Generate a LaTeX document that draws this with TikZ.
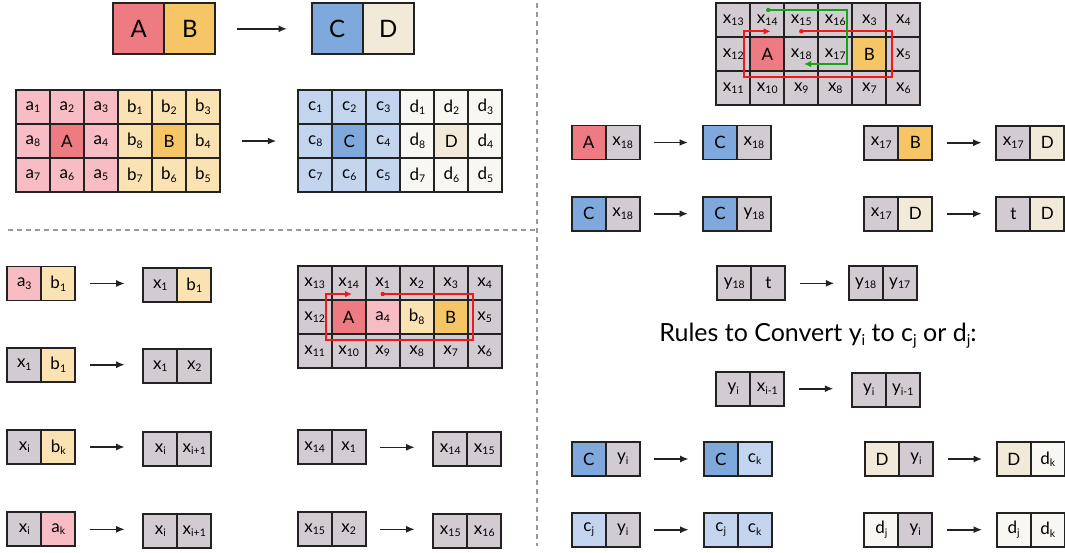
\documentclass[tikz,border=0pt]{standalone}
\usepackage{fontspec}
\setmainfont{Lato}
\usetikzlibrary{arrows.meta}
\definecolor{cA}{HTML}{EE7A82}
\definecolor{cB}{HTML}{F6C566}
\definecolor{cC}{HTML}{7FA8DC}
\definecolor{cD}{HTML}{F1EAD8}
\definecolor{la}{HTML}{F7BCC4}
\definecolor{lb}{HTML}{FAE2B2}
\definecolor{lc}{HTML}{C3D5EE}
\definecolor{ld}{HTML}{F8F7F2}
\definecolor{gx}{HTML}{D2CCD2}
\definecolor{linec}{HTML}{222222}
\definecolor{sepgray}{HTML}{999999}
\definecolor{redl}{HTML}{F01818}
\definecolor{greenl}{HTML}{16A316}
\newcommand\subx[1]{\raisebox{-2.5pt}{\fontsize{10.5}{10.5}\selectfont #1}}
\newcommand\bigsub[1]{\raisebox{-4pt}{\fontsize{15}{15}\selectfont #1}}
\tikzset{
  cell/.style={draw=linec, line width=1.7pt, minimum width=34pt, minimum height=34pt,
    inner sep=0pt, outer sep=0pt, anchor=north west, font=\fontsize{17}{17}\selectfont, text=black},
  bigcell/.style={cell, minimum width=51pt, minimum height=51pt, font=\fontsize{24}{24}\selectfont},
  arr/.style={-{Latex[length=8.5pt,width=7pt]}, line width=1.6pt, draw=linec},
  sepline/.style={draw=sepgray, line width=2.2pt, dash pattern=on 5pt off 4pt},
  redpath/.style={draw=redl, line width=1.8pt},
  greenpath/.style={draw=greenl, line width=1.8pt},
  tip/.style={-{Latex[length=7pt,width=6.5pt]}}
}
\newcommand\pairb[7]{%
  \node[cell,fill=#4] (#1l) at (#2,#3) {#5};
  \node[cell,fill=#6] (#1r) at (#1l.north east) {#7};}
\newcommand\rarr[3][18]{\draw[arr, shorten <=14.5pt, shorten >=#1pt] (#2r.east) -- (#2r.east -| #3l.west);}
\newcommand\gridrow[5]{%
  \foreach \f/\t [count=\c] in {#5}{\node[cell,fill=\f] (#1-#4-\c) at ({#2+(\c-1)*34},#3) {\t};}}
\begin{document}
\begin{tikzpicture}[x=1pt,y=-1pt]
\useasboundingbox (0,0) rectangle (1065,552);

% separators
\draw[sepline] (8,230) -- (536.7,230);
\draw[sepline] (536.7,3) -- (536.7,546);

% top boxes
\node[bigcell,fill=cA] (tA) at (113.3,3.3) {A};
\node[bigcell,fill=cB] (tB) at (tA.north east) {B};
\node[bigcell,fill=cC] (tC) at (311.7,3.3) {C};
\node[bigcell,fill=cD] (tD) at (tC.north east) {D};
\draw[arr, shorten <=21.7pt, shorten >=24.7pt] (tB.east) -- (tC.west);

% left grid
\gridrow{g}{16}{90}{1}{la/a\subx{1},la/a\subx{2},la/a\subx{3},lb/b\subx{1},lb/b\subx{2},lb/b\subx{3}}
\gridrow{g}{16}{124}{2}{la/a\subx{8},cA/A,la/a\subx{4},lb/b\subx{8},cB/B,lb/b\subx{4}}
\gridrow{g}{16}{158}{3}{la/a\subx{7},la/a\subx{6},la/a\subx{5},lb/b\subx{7},lb/b\subx{6},lb/b\subx{5}}
% right grid
\gridrow{h}{298.3}{90}{1}{lc/c\subx{1},lc/c\subx{2},lc/c\subx{3},ld/d\subx{1},ld/d\subx{2},ld/d\subx{3}}
\gridrow{h}{298.3}{124}{2}{lc/c\subx{8},cC/C,lc/c\subx{4},ld/d\subx{8},cD/D,ld/d\subx{4}}
\gridrow{h}{298.3}{158}{3}{lc/c\subx{7},lc/c\subx{6},lc/c\subx{5},ld/d\subx{7},ld/d\subx{6},ld/d\subx{5}}
\draw[arr, shorten <=22pt, shorten >=22pt] (g-2-6.east) -- (h-2-1.west);

% bottom-middle grid
\gridrow{m}{297.7}{266}{1}{gx/x\subx{13},gx/x\subx{14},gx/x\subx{1},gx/x\subx{2},gx/x\subx{3},gx/x\subx{4}}
\gridrow{m}{297.7}{300}{2}{gx/x\subx{12},cA/A,la/a\subx{4},lb/b\subx{8},cB/B,gx/x\subx{5}}
\gridrow{m}{297.7}{334}{3}{gx/x\subx{11},gx/x\subx{10},gx/x\subx{9},gx/x\subx{8},gx/x\subx{7},gx/x\subx{6}}
\coordinate (m0) at (382.7,294);
\fill[redl] (m0) circle (2.2pt);
\draw[redpath] (m0) -- (473.3,294) -- (473.3,340.3) -- (326,340.3) -- (326,294) -- (335,294);
\draw[redpath, tip] (334,294) -- (352,294);

% top-right grid
\gridrow{r}{716.3}{3.3}{1}{gx/x\subx{13},gx/x\subx{14},gx/x\subx{15},gx/x\subx{16},gx/x\subx{3},gx/x\subx{4}}
\gridrow{r}{716.3}{37.3}{2}{gx/x\subx{12},cA/A,gx/x\subx{18},gx/x\subx{17},cB/B,gx/x\subx{5}}
\gridrow{r}{716.3}{71.3}{3}{gx/x\subx{11},gx/x\subx{10},gx/x\subx{9},gx/x\subx{8},gx/x\subx{7},gx/x\subx{6}}
\coordinate (r0) at (801.3,31.3);
\fill[redl] (r0) circle (2.2pt);
\draw[redpath] (r0) -- (892.3,31.3) -- (892.3,77.3) -- (744.3,77.3) -- (744.3,31.3) -- (753,31.3);
\draw[redpath, tip] (752,31.3) -- (770.7,31.3);
\coordinate (g0) at (768.3,10);
\fill[greenl] (g0) circle (2.2pt);
\draw[greenpath] (g0) -- (847.3,10) -- (847.3,64) -- (830,64);
\draw[greenpath, tip] (831,64) -- (804,64);

% left column rules
\pairb{p1}{7.3}{266.5}{la}{a\subx{3}}{lb}{b\subx{1}}
\pairb{q1}{143.3}{268}{gx}{x\subx{1}}{lb}{b\subx{1}}
\rarr[18.6]{p1}{q1}
\pairb{p2}{7.3}{347.7}{gx}{x\subx{1}}{lb}{b\subx{1}}
\pairb{q2}{143.3}{349.3}{gx}{x\subx{1}}{gx}{x\subx{2}}
\rarr[18.6]{p2}{q2}
\pairb{p3}{7.3}{430}{gx}{x\subx{i}}{lb}{b\subx{k}}
\pairb{q3}{143.3}{432}{gx}{x\subx{i}}{gx}{x\subx{i+1}}
\rarr[18.6]{p3}{q3}
\pairb{p4}{7.3}{512.3}{gx}{x\subx{i}}{la}{a\subx{k}}
\pairb{q4}{143.3}{514}{gx}{x\subx{i}}{gx}{x\subx{i+1}}
\rarr[18.6]{p4}{q4}

% middle column rules
\pairb{p5}{297.7}{430.3}{gx}{x\subx{14}}{gx}{x\subx{1}}
\pairb{q5}{433.3}{432}{gx}{x\subx{14}}{gx}{x\subx{15}}
\rarr[18.6]{p5}{q5}
\pairb{p6}{297.7}{512.3}{gx}{x\subx{15}}{gx}{x\subx{2}}
\pairb{q6}{433.3}{514.3}{gx}{x\subx{15}}{gx}{x\subx{16}}
\rarr[18.6]{p6}{q6}

% right section
\pairb{s1}{571.7}{125.5}{cA}{A}{gx}{x\subx{18}}
\pairb{t1}{703}{125.5}{cC}{C}{gx}{x\subx{18}}
\rarr[15]{s1}{t1}
\pairb{s2}{864.3}{125.7}{gx}{x\subx{17}}{cB}{B}
\pairb{t2}{996.3}{125.7}{gx}{x\subx{17}}{cD}{D}
\rarr[14.6]{s2}{t2}
\pairb{s3}{571.7}{196.7}{cC}{C}{gx}{x\subx{18}}
\pairb{t3}{703}{196.7}{cC}{C}{gx}{y\subx{18}}
\rarr[15]{s3}{t3}
\pairb{s4}{864.3}{196.7}{gx}{x\subx{17}}{cD}{D}
\pairb{t4}{996.3}{196.7}{gx}{t}{cD}{D}
\rarr[14.6]{s4}{t4}
\pairb{s5}{717.3}{266.3}{gx}{y\subx{18}}{gx}{t}
\pairb{t5}{848.7}{266.3}{gx}{y\subx{18}}{gx}{y\subx{17}}
\rarr[14.4]{s5}{t5}

\node[font=\fontsize{25}{25}\selectfont, anchor=base, inner sep=0pt] (title) at (818,341.7)
  {Rules to Convert y\bigsub{i} to c\bigsub{j} or d\bigsub{j}:};

\pairb{s6}{716.3}{371.7}{gx}{y\subx{i}}{gx}{x\subx{i-1}}
\pairb{t6}{851.7}{373}{gx}{y\subx{i}}{gx}{y\subx{i-1}}
\rarr[18.4]{s6}{t6}
\pairb{s7}{571.7}{442}{cC}{C}{gx}{y\subx{i}}
\pairb{t7}{703.7}{442}{cC}{C}{lc}{c\subx{k}}
\rarr[15]{s7}{t7}
\pairb{s8}{865}{442}{cD}{D}{gx}{y\subx{i}}
\pairb{t8}{996.7}{442}{cD}{D}{ld}{d\subx{k}}
\rarr[14.6]{s8}{t8}
\pairb{s9}{571.7}{512.7}{lc}{c\subx{j}}{gx}{y\subx{i}}
\pairb{t9}{703.7}{512.7}{lc}{c\subx{j}}{lc}{c\subx{k}}
\rarr[15]{s9}{t9}
\pairb{s10}{864.3}{512.7}{ld}{d\subx{j}}{gx}{y\subx{i}}
\pairb{t10}{996.7}{512.7}{ld}{d\subx{j}}{ld}{d\subx{k}}
\rarr[14.6]{s10}{t10}
\end{tikzpicture}
\end{document}
